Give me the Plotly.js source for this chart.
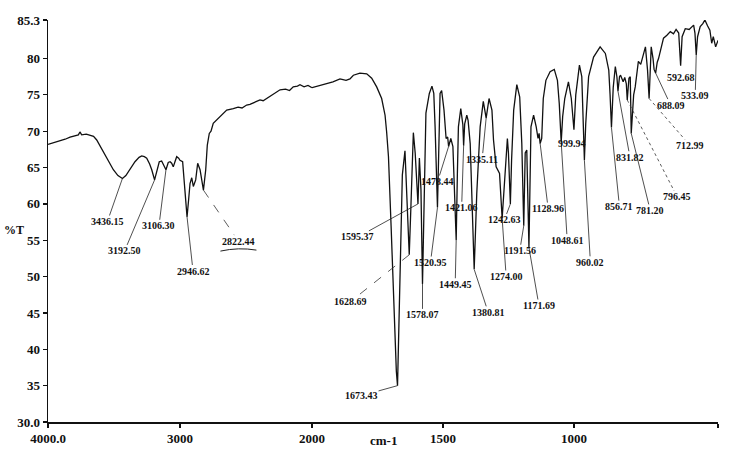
<!DOCTYPE html>
<html><head><meta charset="utf-8">
<script src="https://cdn.plot.ly/plotly-3.0.1.min.js"></script>
<style>html,body{margin:0;padding:0;background:#fff}</style>
</head><body><div id="chart" style="width:732px;height:466px"></div>
<script>
// ---- data (wavenumber in cm-1, transmittance in %T) ----
const wavenumber = [
4000,3960,3909,3870,3833,3790,3770,3758,3745,3710,3682,3655,3631,3593,3555,3505,3470,3436.15,3410,3392,
3341,3310,3290,3270,3252,3230,3214,3192.5,3175,3157,3139,3120,3106.3,3089,3075,3063,3051,3038,3025,3010,
3000,2980,2965,2946.62,2935,2924,2911,2899,2881,2866,2848,2835,2822.44,2805,2793,2778,2765,2748,2720,2697,
2670,2646,2596,2560,2530,2495,2470,2430,2394,2370,2343,2300,2270,2242,2200,2170,2142,2110,2091,2060,2030,2000,
1970,1944,1920,1893,1870,1855,1842,1817,1791,1772,1753,1734,1721,1715,1708,1698,1688,1678,1673.43,1668,
1662,1655,1645,1638,1628.69,1622,1613,1606,1595.37,1590,1584,1578.07,1572,1565,1552,1542,1535,1530,1520.95,1515,
1511,1505,1496,1488,1482,1478.44,1470,1462,1455,1449.45,1445,1441,1432,1424,1421.06,1417,1409,1404,1396,1388,
1380.81,1376,1371,1358,1346,1335.11,1324,1313,1307,1297,1284,1274,1266,1262,1254,1250,1242.63,1238,1230,1218,
1207,1199,1191.56,1186,1180,1171.69,1164,1154,1144,1137,1133,1128.96,1123,1117,1107,1091,1075,1063,1056,1048.61,
1043,1035,1021,1010,999.94,993,979,970,965,960.02,955,944,925,900,880,867,862,856.71,850,842,
836,831.82,826,822,812,806,800,796.45,790,785,781.2,772,766,754,745,738,727,719,712.99,709,
705,698,694,688.09,682,677,668,658,645,632,620,610,600,592.68,587,575,560,543,538,533.09,
528,518,508,500,490,481,474,468,459,450];
const transmittance = [
68.2,68.4,68.7,68.9,69.2,69.4,69.5,69.9,69.5,69.6,69.5,69.3,68.8,67.6,66.3,64.7,63.9,63.5,63.9,64.4,
65.8,66.4,66.6,66.5,66.3,65.5,64.7,63.3,64.6,65.8,65.9,65.2,64.7,65.7,65.8,65.6,65.1,65.8,66.5,66.3,
66.0,65.8,62.5,58.2,60.5,62.8,63.6,62.4,63.3,65.6,64.7,63.0,61.9,64.7,68.1,69.7,70.0,71.1,71.6,72.0,
72.4,72.9,73.1,73.3,73.2,73.6,73.7,74.0,74.3,74.2,74.5,75.0,75.4,75.7,75.8,75.6,76.1,76.2,76.4,76.1,76.3,76.0,
76.3,76.6,76.8,77.2,77.0,77.2,77.7,78.0,77.9,77.3,76.1,74.5,72.2,69.9,66.5,57,46,37,35.0,44,
56,64,67.3,62,53.0,60,69.8,67,60.0,66.3,62,49.0,61,72.5,75.2,76.2,75.2,70.6,59.5,68,
75.2,75.6,72.9,69.0,69.2,67.9,69.0,67.9,60.5,55.0,64,70.6,73.1,70.9,68.0,71,72.2,71.5,68.3,60,
51.0,56,61.4,70.6,74.1,71.8,74.5,72.9,68.8,65.1,64.2,58.0,63,65.1,69.0,67.0,60.0,66,72.9,76.4,
74.7,68.3,57.0,67.0,67.4,54.0,70.6,72.2,70.6,69.0,69.7,68.3,69.0,74.5,77.0,78.2,78.5,77.0,73.8,68.5,
72,74.5,76.8,74.5,70.2,75,79.1,77.5,73,66.0,71,77.5,80.2,81.6,80.7,78.4,75,70.5,76,78.9,
77.5,75.5,77.5,77.7,76.8,77.4,76.5,74.3,77.3,77.5,69.7,75,76.1,79.6,79.2,80.0,81.6,78.4,74.5,78,
81.6,80.0,78.5,78.0,79.5,80.0,81.5,82.8,83.2,83.7,83.4,84.0,83.5,79.0,83.0,84.1,84.0,84.6,83.5,80.5,
83,84.4,84.8,85.3,84.5,83.9,82.1,83.0,81.6,82.5];

const peakLabels = ['3436.15','3192.50','3106.30','2946.62','2822.44','1673.43','1628.69','1595.37','1578.07','1520.95',
'1478.44','1449.45','1421.06','1380.81','1335.11','1274.00','1242.63','1191.56','1171.69','1128.96',
'1048.61','999.94','960.02','856.71','831.82','796.45','781.20','712.99','688.09','592.68','533.09'];
const peakWN = [3436.15,3192.5,3106.3,2946.62,2822.44,1673.43,1628.69,1595.37,1578.07,1520.95,
1478.44,1449.45,1421.06,1380.81,1335.11,1274.0,1242.63,1191.56,1171.69,1128.96,
1048.61,999.94,960.02,856.71,831.82,796.45,781.2,712.99,688.09,592.68,533.09];
const peakT = [63.5,63.3,64.7,58.2,61.9,35.0,53.0,60.0,49.0,59.5,
67.9,55.0,68.0,51.0,71.8,58.0,60.0,57.0,54.0,68.3,
68.5,70.2,66.0,70.5,75.5,74.3,69.7,74.5,78.0,79.0,80.5];

const xTickVals1 = [4000, 3000];
const xTickText1 = ['4000.0', '3000'];
const xTickVals2 = [2000, 1500, 1000, 450];
const xTickText2 = ['2000', '1500', '1000', '450.0'];
const yTickVals = [30, 35, 40, 45, 50, 55, 60, 65, 70, 75, 80, 85.3];
const yTickText = ['30.0', '35', '40', '45', '50', '55', '60', '65', '70', '75', '80', '85.3'];

// ---- layout-only settings: label offsets (px) and leader styles ----
const labelOffsets = [[-15,43],[-30,71],[-7,56],[6,54],[35,51],[-36,10],[-59,47],[-60,33],[0,31],[-7,55],
[-11,35],[-1,44],[-2,62],[14,43],[-4,41],[4,58],[-6,16],[-4,25],[10,58],[8,65],
[6,98],[-2,14],[6,102],[8,79],[12,66],[50,97],[19,77],[41,47],[15,32],[0,12],[-1,41]];
const leaderStyles = ['solid','solid','solid','solid','dash','solid','dash','solid','solid','solid',
'solid','solid','solid','solid','solid','solid','solid','solid','solid','solid',
'solid','none','solid','solid','solid','dot','solid','dot','solid','none','solid'];

const SPLIT = 2000;
const hiX = [], hiY = [], loX = [], loY = [];
wavenumber.forEach((w, i) => {
  if (w >= SPLIT) { hiX.push(w); hiY.push(transmittance[i]); }
  if (w <= SPLIT) { loX.push(w); loY.push(transmittance[i]); }
});

const lineStyle = {color: '#111', width: 1.3};
const traces = [
  {x: hiX, y: hiY, xaxis: 'x', yaxis: 'y', type: 'scatter', mode: 'lines', line: lineStyle, hoverinfo: 'skip'},
  {x: loX, y: loY, xaxis: 'x2', yaxis: 'y', type: 'scatter', mode: 'lines', line: lineStyle, hoverinfo: 'skip'}
];

const serif = 'Liberation Serif, Times New Roman, serif';
const labelFont = {family: serif, size: 10, color: '#111', weight: 'bold'};
const tickFont = {family: serif, size: 13, color: '#111', weight: 'bold'};

const annotations = [];
const shapes = [];
peakLabels.forEach((txt, i) => {
  const xr = peakWN[i] > SPLIT ? 'x' : 'x2';
  const [dx, dy] = labelOffsets[i];
  const st = leaderStyles[i];
  if (st === 'solid') {
    annotations.push({x: peakWN[i], y: peakT[i], xref: xr, yref: 'y', text: txt, font: labelFont,
      showarrow: true, arrowhead: 0, arrowwidth: 0.8, arrowcolor: '#222', ax: dx, ay: dy, standoff: 0, borderpad: 0});
  } else {
    annotations.push({x: peakWN[i], y: peakT[i], xref: xr, yref: 'y', text: txt, font: labelFont,
      showarrow: false, xshift: dx, yshift: -dy});
    if (st !== 'none') {
      const t = Math.min(17 / Math.max(Math.abs(dx), 0.01), 6 / Math.max(Math.abs(dy), 0.01), 1);
      shapes.push({type: 'line', xref: xr, yref: 'y', xsizemode: 'pixel', ysizemode: 'pixel',
        xanchor: peakWN[i], yanchor: peakT[i], x0: 0, y0: 0, x1: dx * (1 - t), y1: -dy * (1 - t),
        line: {color: '#333', width: 0.8, dash: st}});
    }
  }
  if (txt === '2822.44') {
    // hand-drawn underline beneath this label
    shapes.push({type: 'path', xref: xr, yref: 'y', xsizemode: 'pixel', ysizemode: 'pixel',
      xanchor: peakWN[i], yanchor: peakT[i],
      path: 'M' + (dx - 18) + ',' + (-dy - 10) + ' Q' + dx + ',' + (-dy - 6) + ' ' + (dx + 18) + ',' + (-dy - 9),
      line: {color: '#222', width: 1}});
  }
});

annotations.push({xref: 'paper', yref: 'paper', x: -0.0687, xanchor: 'left', y: 0.477, text: '%T', showarrow: false,
  font: {family: serif, size: 12, color: '#111', weight: 'bold'}});
annotations.push({xref: 'paper', yref: 'paper', x: 0.5, y: -0.07, text: 'cm-1', showarrow: false,
  font: {family: serif, size: 13, color: '#111', weight: 'bold'}});

const axisCommon = {showline: true, linecolor: '#111', linewidth: 1.5, ticks: 'outside', ticklen: 4,
  tickwidth: 1.2, tickcolor: '#111', showgrid: false, zeroline: false, tickfont: tickFont, fixedrange: true};
const f = 0.394;
const layout = {
  width: 732, height: 466,
  margin: {l: 48, r: 14, t: 20, b: 44},
  paper_bgcolor: '#fff', plot_bgcolor: '#fff',
  showlegend: false,
  xaxis: Object.assign({}, axisCommon, {domain: [0, f], range: [4000, SPLIT], anchor: 'y',
    tickmode: 'array', tickvals: xTickVals1, ticktext: xTickText1}),
  xaxis2: Object.assign({}, axisCommon, {domain: [f, 1], range: [SPLIT, 450], anchor: 'y',
    tickmode: 'array', tickvals: xTickVals2, ticktext: xTickText2}),
  yaxis: Object.assign({}, axisCommon, {range: [30, 85.3], anchor: 'x',
    tickmode: 'array', tickvals: yTickVals, ticktext: yTickText}),
  annotations: annotations,
  shapes: shapes
};
Plotly.newPlot('chart', traces, layout, {displayModeBar: false, staticPlot: true});
</script></body></html>
